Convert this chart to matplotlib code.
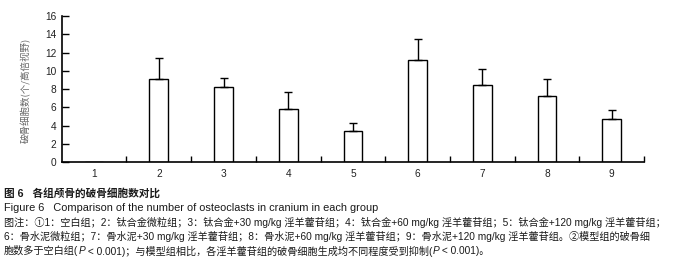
import numpy as np
import matplotlib
matplotlib.use("Agg")
import matplotlib.pyplot as plt

# groups and values
groups = ["1", "2", "3", "4", "5", "6", "7", "8", "9"]
means = [0, 9.1, 8.2, 5.8, 3.4, 11.2, 8.5, 7.3, 4.7]
sds = [0, 2.3, 1.0, 1.85, 0.9, 2.3, 1.75, 1.85, 1.0]

ylabel = "破骨细胞数(个/高倍视野)"
cap_lines = [
    [("图 6   各组颅骨的破骨细胞数对比", "bold")],
    [("Figure 6   Comparison of the number of osteoclasts in cranium in each group", "normal")],
    [("图注：①1：空白组；2：钛合金微粒组；3：钛合金+30 mg/kg 淫羊藿苷组；4：钛合金+60 mg/kg 淫羊藿苷组；5：钛合金+120 mg/kg 淫羊藿苷组；", "normal")],
    [("6：骨水泥微粒组；7：骨水泥+30 mg/kg 淫羊藿苷组；8：骨水泥+60 mg/kg 淫羊藿苷组；9：骨水泥+120 mg/kg 淫羊藿苷组。②模型组的破骨细", "normal")],
    [("胞数多于空白组(", "normal"), ("P", "italic"), (" < 0.001)；与模型组相比，各淫羊藿苷组的破骨细胞生成均不同程度受到抑制(", "normal"),
     ("P", "italic"), (" < 0.001)。", "normal")],
]
cap_sizes = [7.7, 7.9, 7.3, 7.3, 7.3]

fam = ["Liberation Sans", "Noto Sans CJK SC"]
plt.rcParams['font.family'] = fam

fig = plt.figure(figsize=(6.86, 2.63), dpi=100)
ax = fig.add_axes([0.090, 0.383, 0.849, 0.556])

x = np.arange(1, len(groups) + 1)
ax.bar(x, means, width=0.29, color="white", edgecolor="black", linewidth=1.0, zorder=2)
ax.errorbar(x[1:], means[1:], yerr=[np.zeros(len(sds) - 1), sds[1:]], fmt="none",
            ecolor="black", elinewidth=1.0, capsize=3.2, capthick=1.0, zorder=3)

ax.set_xlim(0.5, 9.5)
ax.set_ylim(0, 16)
ax.set_yticks(range(0, 17, 2))
ax.set_xticks(x)
ax.set_xticklabels(groups)
ax.set_xticks(np.arange(1.5, 10, 1), minor=True)
ax.tick_params(axis="x", which="major", length=0, labelsize=7.3, pad=5, colors="#222222")
ax.tick_params(axis="x", which="minor", direction="in", length=4, width=1)
ax.tick_params(axis="y", direction="in", length=5, width=1, labelsize=7.3, pad=4, colors="#222222")
ax.tick_params(axis="both", which="both", color="black")
for s in ["top", "right"]:
    ax.spines[s].set_visible(False)
for s in ["left", "bottom"]:
    ax.spines[s].set_linewidth(1.2)

fig.text(0.037, 0.655, ylabel, rotation=90, ha="center", va="center", fontsize=6.8,
         color="#666666", family=["Noto Sans CJK SC", "DejaVu Sans"])

# caption lines, drawn run by run so P can be italic
fig.canvas.draw()
r = fig.canvas.get_renderer()
ys = [193, 208, 222.5, 236.5, 251]
for line, ypx, fs in zip(cap_lines, ys, cap_sizes):
    xpx = 4
    for txt, style in line:
        t = fig.text(xpx / 686, 1 - ypx / 263, txt, ha="left", va="center",
                     fontsize=fs,
                     fontweight="bold" if style == "bold" else "normal",
                     fontstyle="italic" if style == "italic" else "normal",
                     color="#1a1a1a", family=fam)
        bb = t.get_window_extent(renderer=r)
        xpx = bb.x1

fig.savefig("out.png", dpi=100)
